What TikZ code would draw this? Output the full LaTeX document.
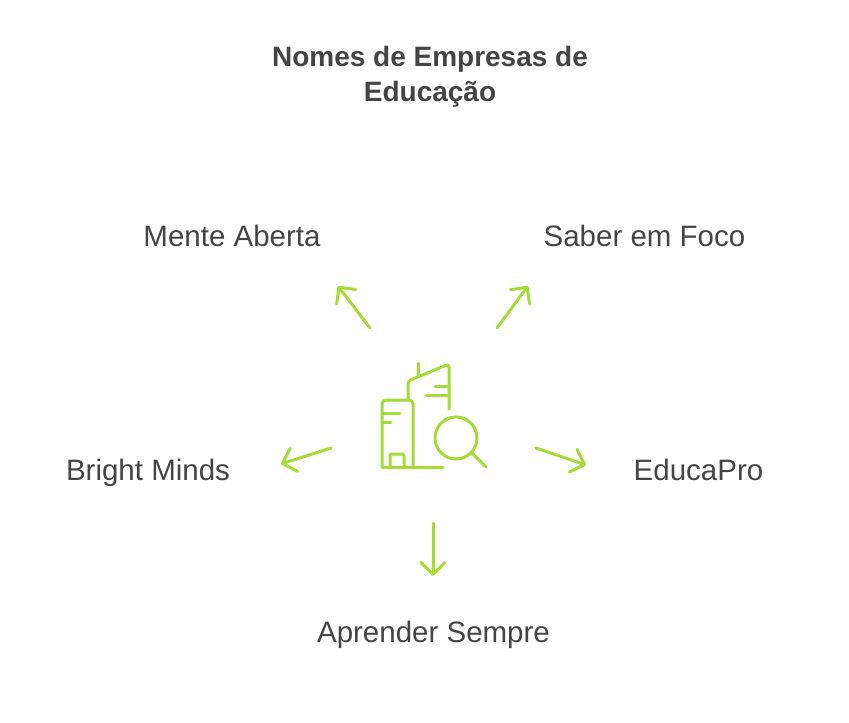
\documentclass[tikz,border=0pt]{standalone}
\usepackage{fontspec}
\usepackage{tikz}
\usetikzlibrary{arrows.meta}
\setmainfont{Liberation Sans}
\definecolor{lime}{HTML}{A5DB36}
\definecolor{ink}{HTML}{444444}

\begin{document}
\begin{tikzpicture}[x=1pt,y=-1pt,
        label/.style={text=ink,font=\fontsize{29.5}{35}\selectfont,anchor=base},
        title/.style={text=ink,font=\fontsize{28}{35}\selectfont\bfseries,align=center,anchor=base},
        spoke/.style={draw=lime,line width=3pt,line cap=round,line join=round,-{Straight Barb[length=12pt,width=24pt,round]}},
        icon/.style={draw=lime,line width=3pt,line cap=round,line join=round}]
        \useasboundingbox (0,0) rectangle (849,723);

        \node[title] (head1) at (430,66) {Nomes de Empresas de};
        \node[title] (head2) at (430,101) {Educação};

        \node[label] (mente) at (232,246) {Mente Aberta};
        \node[label] (saber) at (644.5,246) {Saber em Foco};
        \node[label] (bright) at (148,480) {Bright Minds};
        \node[label] (educa) at (698.5,480) {EducaPro};
        \node[label] (aprender) at (433.5,642) {Aprender Sempre};

        \coordinate (menteTail) at (370,328);
        \coordinate (menteTip) at (338,286);
        \coordinate (saberTail) at (497,328);
        \coordinate (saberTip) at (528,286);
        \coordinate (brightTail) at (331,448);
        \coordinate (brightTip) at (281,464);
        \coordinate (educaTail) at (536,448);
        \coordinate (educaTip) at (586,465);
        \coordinate (aprenderTail) at (433,523);
        \coordinate (aprenderTip) at (433,576);

        \draw[spoke] (menteTail) -- (menteTip);
        \draw[spoke] (saberTail) -- (saberTip);
        \draw[spoke] (brightTail) -- (brightTip);
        \draw[spoke] (educaTail) -- (educaTip);
        \draw[spoke] (aprenderTail) -- (aprenderTip);

        \draw[icon,rounded corners=3pt] (408,400) -- (408,381) -- (449,364) -- (449,409);
        \draw[icon] (418,363) -- (418,376);
        \draw[icon] (435,386) -- (449,386);
        \draw[icon] (426,395) -- (449,395);

        \draw[icon,rounded corners=4pt] (382,467) -- (382,400) -- (413,400) -- (413,467);
        \draw[icon] (382,467) -- (443,467);
        \draw[icon] (382,413) -- (400,413);
        \draw[icon] (382,422) -- (391,422);
        \draw[icon,rounded corners=2pt] (390,467) -- (390,454) -- (404,454) -- (404,467);

        \draw[icon] (456,438) circle (21);
        \draw[icon] (472,453) -- (486,467);
    \end{tikzpicture}
\end{document}
